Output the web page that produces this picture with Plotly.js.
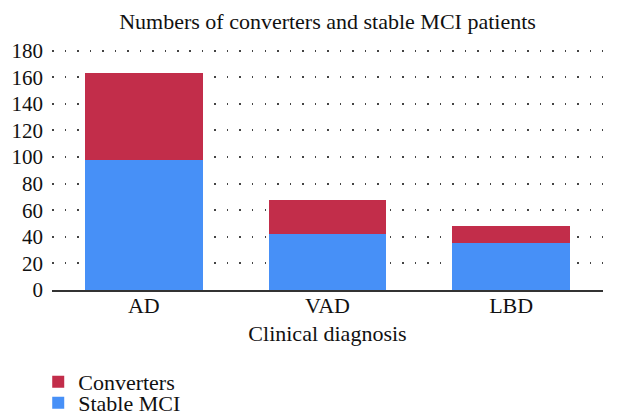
<!DOCTYPE html>
<html><head><meta charset="utf-8">
<script src="https://cdn.plot.ly/plotly-3.0.1.min.js"></script>
<style>body{margin:0;padding:0;background:#fff}#c{width:617px;height:414px}</style>
</head><body><div id="c"></div>
<script>
var categories = ["AD", "VAD", "LBD"];
var stableMCI = [98, 42, 35];
var converters = [65, 26, 13];
var yTicks = [0, 20, 40, 60, 80, 100, 120, 140, 160, 180];

var font = "Liberation Serif, DejaVu Serif, serif";
var data = [
  {type: "bar", name: "Stable MCI", x: categories, y: stableMCI, marker: {color: "#4790F7"}, legend: "legend2"},
  {type: "bar", name: "Converters", x: categories, y: converters, marker: {color: "#C22D4A"}, legend: "legend"}
];
var layout = {
  width: 617, height: 414,
  margin: {l: 52, r: 14, t: 48, b: 124, autoexpand: false},
  barmode: "stack", bargap: 0.36,
  paper_bgcolor: "#fff", plot_bgcolor: "#fff",
  font: {family: font, color: "#111", size: 22},
  title: {text: "Numbers of converters and stable MCI patients", x: 0.5, xref: "paper", y: 0.968, yref: "container", font: {size: 22, family: font}},
  xaxis: {automargin: false, showline: true, linecolor: "#333", linewidth: 2, showgrid: false, ticks: "", tickfont: {size: 22}, ticklabelstandoff: -5,
    title: {text: "Clinical diagnosis", font: {size: 22}, standoff: 8}},
  yaxis: {automargin: false, range: [0, 182], tickvals: yTicks, showgrid: true, gridcolor: "#444", gridwidth: 1.5, griddash: "1.5px,11px",
    zeroline: false, ticks: "", tickfont: {size: 21}, ticklabelstandoff: 8},
  showlegend: true,
  legend: {xref: "paper", x: -0.025, yref: "container", y: 0.0773, yanchor: "middle", xanchor: "left", font: {size: 22}, itemwidth: 30, maxheight: 60, bgcolor: "rgba(0,0,0,0)"},
  legend2: {xref: "paper", x: -0.025, yref: "container", y: 0.0266, yanchor: "middle", xanchor: "left", font: {size: 22}, itemwidth: 30, maxheight: 60, bgcolor: "rgba(0,0,0,0)"}
};
Plotly.newPlot("c", data, layout, {displayModeBar: false});
</script></body></html>
